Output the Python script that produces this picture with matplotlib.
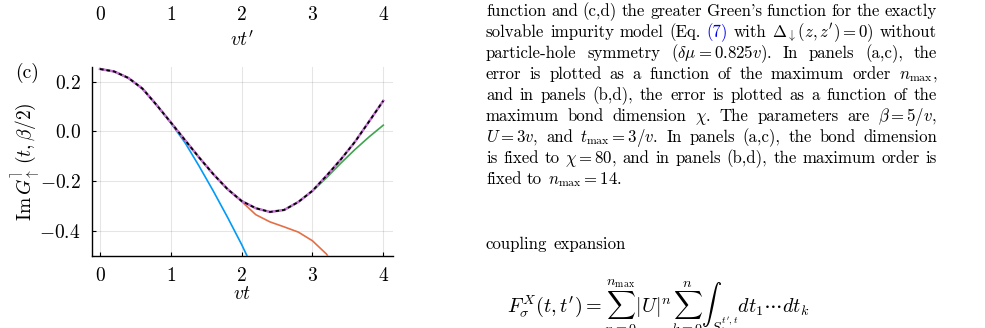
import matplotlib
matplotlib.use('Agg')
import matplotlib.pyplot as plt

plt.rcParams['font.family'] = 'serif'
plt.rcParams['font.serif'] = ['cmr10']
plt.rcParams['mathtext.fontset'] = 'cm'

# data
t = [0.0, 0.2, 0.4, 0.6, 0.8, 1.0, 1.2, 1.4, 1.6, 1.8, 2.0,
     2.2, 2.4, 2.6, 2.8, 3.0, 3.2, 3.4, 3.6, 3.8, 4.0]
exact = [0.251, 0.241, 0.215, 0.172, 0.106, 0.036, -0.035, -0.105, -0.172, -0.232, -0.280,
         -0.309, -0.324, -0.316, -0.284, -0.239, -0.178, -0.113, -0.042, 0.040, 0.123]
order_high = list(exact)
order_mid = [0.251, 0.241, 0.215, 0.172, 0.106, 0.036, -0.035, -0.105, -0.172, -0.232, -0.280,
             -0.309, -0.324, -0.316, -0.284, -0.240, -0.186, -0.128, -0.073, -0.022, 0.025]
t_orange = t[:18]
order_low = [0.251, 0.241, 0.215, 0.172, 0.106, 0.036, -0.035, -0.105, -0.172, -0.232, -0.282,
             -0.335, -0.364, -0.384, -0.405, -0.440, -0.494, -0.600]
t_blue = t[:12]
order_lowest = [0.251, 0.241, 0.215, 0.172, 0.106, 0.034, -0.045, -0.140, -0.240, -0.345, -0.455,
                -0.575]

xticks = [0, 1, 2, 3, 4]
xtick_labels = ['$0$', '$1$', '$2$', '$3$', '$4$']
yticks = [-0.4, -0.2, 0.0, 0.2]
ytick_labels = ['$-0.4$', '$-0.2$', '$0.0$', '$0.2$']

body_lines = [
    "function and (c,d) the greater Green's function for the exactly",
    "solvable impurity model (Eq. (7) with $\\Delta_{\\downarrow}(z,z^{\\prime})=0$) without",
    "particle-hole symmetry ($\\delta\\mu=0.825v$). In panels (a,c), the",
    "error is plotted as a function of the maximum order $n_{\\max}$,",
    "and in panels (b,d), the error is plotted as a function of the",
    "maximum bond dimension $\\chi$. The parameters are $\\beta=5/v$,",
    "$U=3v$, and $t_{\\max}=3/v$. In panels (a,c), the bond dimension",
    "is fixed to $\\chi=80$, and in panels (b,d), the maximum order is",
    "fixed to $n_{\\max}=14$.",
]

W, H = 985, 328
fig = plt.figure(figsize=(W / 100, H / 100), dpi=100)
fig.patch.set_facecolor('white')

TICK_FS = 14

# panel (c)
ax = fig.add_axes([91.7 / W, 1 - 255.7 / H, 301 / W, 188.7 / H])
ax.plot(t_blue, order_lowest, color='#009AFA', lw=1.2, zorder=3)
ax.plot(t_orange, order_low, color='#E36F47', lw=1.2, zorder=4)
ax.plot(t, order_mid, color='#3EA44E', lw=1.2, zorder=5)
ax.plot(t, order_high, color='#C371D2', lw=1.8, zorder=6)
ax.plot(t, exact, color='black', lw=1.3, ls=(0, (2, 1.6)), zorder=7)
ax.set_xlim(-0.117, 4.133)
ax.set_ylim(-0.5, 0.259)
ax.set_xticks(xticks, xtick_labels, fontsize=TICK_FS)
ax.set_yticks(yticks, ytick_labels, fontsize=TICK_FS)
ax.tick_params(direction='in', length=3, width=0.8, pad=8)
ax.grid(True, color='black', alpha=0.1, lw=0.8)
for side in ['top', 'right']:
    ax.spines[side].set_visible(False)
for side in ['left', 'bottom']:
    ax.spines[side].set_linewidth(1.0)
ax.set_xlabel('$vt$', fontsize=TICK_FS, labelpad=0)
ax.set_ylabel('$\\mathrm{Im}\\,G^{\\rceil}_{\\uparrow}\\,(t,\\beta/2)$', fontsize=TICK_FS, labelpad=-2)
fig.text(27 / W, 1 - 73 / H, '(c)', fontsize=TICK_FS, ha='center', va='center')

# bottom of the panel above, mostly cut off
ax_top = fig.add_axes([91.7 / W, 1 + 5 / H, 301 / W, 0.3])
ax_top.set_xlim(-0.117, 4.133)
ax_top.set_xticks(xticks, xtick_labels, fontsize=TICK_FS)
ax_top.set_yticks([])
ax_top.tick_params(direction='in', length=3, pad=8)
for s in ax_top.spines.values():
    s.set_visible(False)
ax_top.patch.set_visible(False)
ax_top.set_xlabel("$vt^{\\prime}$", fontsize=TICK_FS, labelpad=4)

# caption text, justified by hand
renderer = fig.canvas.get_renderer()
TEXT_FS = 12.1
X0, X1 = 486, 937


def place_line(line, y, justify=True, x0=X0, space=5.5):
    toks = line.split(' ')
    objs = []
    for tok in toks:
        col = '#0000EE' if tok == '(7)' else 'black'
        objs.append(fig.text(0, 1 - y / H, tok, fontsize=TEXT_FS, color=col, va='baseline', ha='left'))
    widths = [o.get_window_extent(renderer).width for o in objs]
    gap = space
    if justify and len(objs) > 1:
        gap = (X1 - x0 - sum(widths)) / (len(objs) - 1)
    x = x0
    for o, w in zip(objs, widths):
        o.set_x(x / W)
        x += w + gap


for i, line in enumerate(body_lines):
    place_line(line, 16 + 21 * i, justify=(i < len(body_lines) - 1))

place_line('coupling expansion', 249, justify=False)
fig.text(507 / W, 1 - 312 / H,
         "$F_{\\sigma}^{X}(t,t^{\\prime})=\\sum_{n=0}^{n_{\\max}}|U|^{n}\\sum_{k=0}^{n}"
         "\\int_{S_k^{t^{\\prime},t}}dt_1\\cdots dt_k$",
         fontsize=14.5, va='baseline', ha='left')

fig.savefig('out.png', dpi=100)
